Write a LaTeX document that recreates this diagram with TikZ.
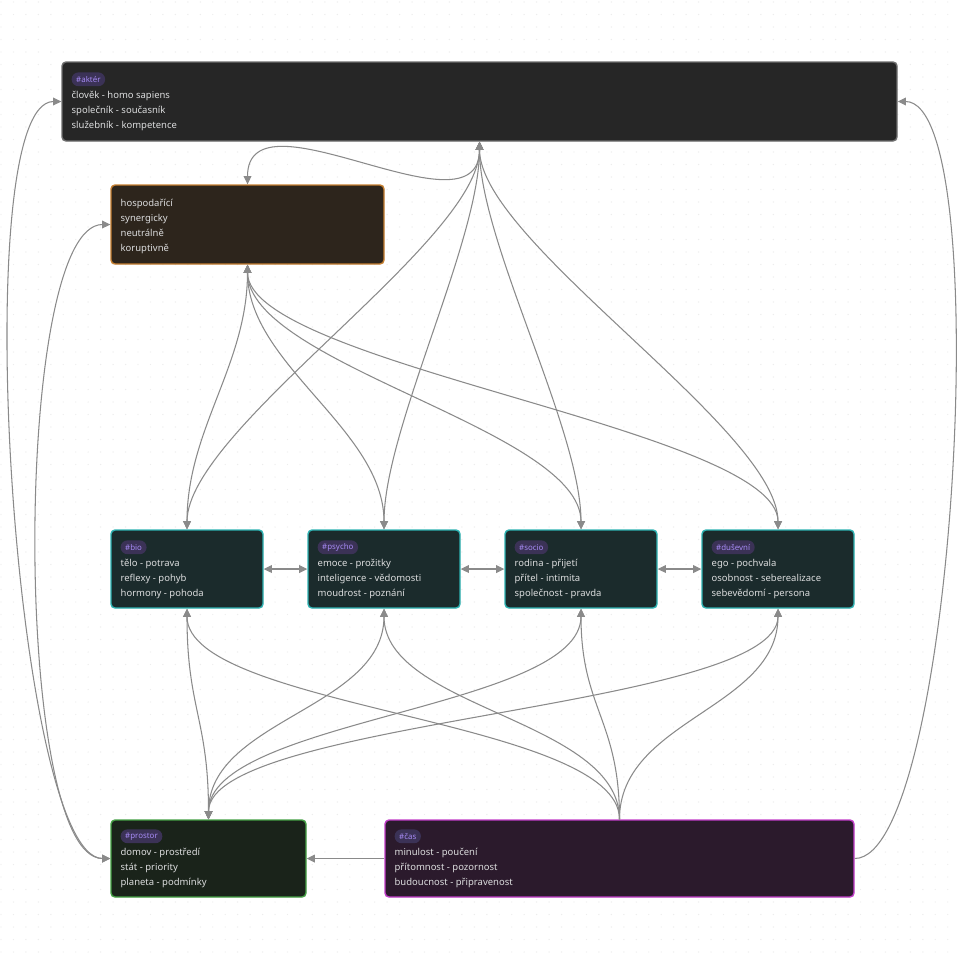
\documentclass[tikz,border=0pt]{standalone}
\usepackage{fontspec}
\setmainfont{Noto Sans}
\usetikzlibrary{arrows.meta,fit}
\definecolor{c_text}{HTML}{DCDDDE}
\definecolor{c_edge}{HTML}{8A8A8A}
\definecolor{c_dots}{HTML}{EDEDED}
\definecolor{c_tag_fill}{HTML}{3B3256}
\definecolor{c_tag_text}{HTML}{A78BF5}
\definecolor{c_akter_fill}{HTML}{262626}
\definecolor{c_akter_line}{HTML}{6E6E6E}
\definecolor{c_hosp_fill}{HTML}{2D251C}
\definecolor{c_hosp_line}{HTML}{C67F30}
\definecolor{c_slozka_fill}{HTML}{1B2B2C}
\definecolor{c_slozka_line}{HTML}{2DB3B3}
\definecolor{c_prostor_fill}{HTML}{1A231A}
\definecolor{c_prostor_line}{HTML}{45A045}
\definecolor{c_cas_fill}{HTML}{2B1A2C}
\definecolor{c_cas_line}{HTML}{C23DC9}
\tikzstyle{box_base} = [rectangle, rounded corners=2.3pt, line width=0.8pt, inner sep=0pt]
\tikzstyle{box_akter} = [box_base, draw=c_akter_line, fill=c_akter_fill]
\tikzstyle{box_hosp} = [box_base, draw=c_hosp_line, fill=c_hosp_fill]
\tikzstyle{box_slozka} = [box_base, draw=c_slozka_line, fill=c_slozka_fill]
\tikzstyle{box_prostor} = [box_base, draw=c_prostor_line, fill=c_prostor_fill]
\tikzstyle{box_cas} = [box_base, draw=c_cas_line, fill=c_cas_fill]
\tikzstyle{tag_pill} = [anchor=west, fill=c_tag_fill, text=c_tag_text, rounded corners=3.9pt, inner xsep=2.6pt, inner ysep=0pt, minimum height=7.9pt, font=\fontsize{4.5}{5}\selectfont]
\tikzstyle{text_lines} = [anchor=base west, text=c_text, align=left, inner sep=0pt, font=\fontsize{5.4}{8.5}\selectfont]
\tikzstyle{edge_normal} = [c_edge, line width=0.6pt, >={Triangle[length=4.6pt,width=4.4pt]}]

\begin{document}
\begin{tikzpicture}[x=0.02cm, y=-0.02cm]
			\useasboundingbox[fill=white] (0,0) rectangle (960,960);
			% faint canvas dots
			\foreach \gy in {2,14.5,...,958}
				\draw[c_dots, line width=0.8pt, line cap=round, dash pattern=on 0pt off 7.09pt] (1,\gy) -- (960,\gy);

			\node (AKT) [box_akter, fit={(62,62) (897,141)}] {};
			\node (HOS) [box_hosp, fit={(111,185) (384,264)}] {};
			\node (BIO) [box_slozka, fit={(111,530) (263,608)}] {};
			\node (PSY) [box_slozka, fit={(308,530) (460,608)}] {};
			\node (SOC) [box_slozka, fit={(505,530) (657,608)}] {};
			\node (DUS) [box_slozka, fit={(702,530) (854,608)}] {};
			\node (PRO) [box_prostor, fit={(111,820) (306,897)}] {};
			\node (CAS) [box_cas, fit={(385,820) (854,897)}] {};

			% base of a text block is its last line
			\node (AKTtag) at ([shift={(10,18)}]AKT.north west) [tag_pill] {\#aktér};
			\node (AKTtxt) at ([shift={(10,67)}]AKT.north west) [text_lines] {člověk - homo sapiens\\společník - současník\\služebník - kompetence};
			\node (HOStxt) at ([shift={(10,67)}]HOS.north west) [text_lines] {hospodařící\\synergicky\\neutrálně\\koruptivně};
			\node (BIOtag) at ([shift={(10,18)}]BIO.north west) [tag_pill] {\#bio};
			\node (BIOtxt) at ([shift={(10,67)}]BIO.north west) [text_lines] {tělo - potrava\\reflexy - pohyb\\hormony - pohoda};
			\node (PSYtag) at ([shift={(10,18)}]PSY.north west) [tag_pill] {\#psycho};
			\node (PSYtxt) at ([shift={(10,67)}]PSY.north west) [text_lines] {emoce - prožitky\\inteligence - vědomosti\\moudrost - poznání};
			\node (SOCtag) at ([shift={(10,18)}]SOC.north west) [tag_pill] {\#socio};
			\node (SOCtxt) at ([shift={(10,67)}]SOC.north west) [text_lines] {rodina - přijetí\\přítel - intimita\\společnost - pravda};
			\node (DUStag) at ([shift={(10,18)}]DUS.north west) [tag_pill] {\#duševní};
			\node (DUStxt) at ([shift={(10,67)}]DUS.north west) [text_lines] {ego - pochvala\\osobnost - seberealizace\\sebevědomí - persona};
			\node (PROtag) at ([shift={(10,17)}]PRO.north west) [tag_pill] {\#prostor};
			\node (PROtxt) at ([shift={(10,66)}]PRO.north west) [text_lines] {domov - prostředí\\stát - priority\\planeta - podmínky};
			\node (CAStag) at ([shift={(10,17)}]CAS.north west) [tag_pill] {\#čas};
			\node (CAStxt) at ([shift={(10,66)}]CAS.north west) [text_lines] {minulost - poučení\\přítomnost - pozornost\\budoucnost - připravenost};

			% from the actor
			\draw[edge_normal, <->] (AKT.south) .. controls +(0,100) and +(0,-100) .. (HOS.north);
			\draw[edge_normal, <->] (AKT.south) .. controls +(0,100) and +(0,-100) .. (BIO.north);
			\draw[edge_normal, <->] (AKT.south) .. controls +(0,100) and +(0,-100) .. (PSY.north);
			\draw[edge_normal, <->] (AKT.south) .. controls +(0,100) and +(0,-100) .. (SOC.north);
			\draw[edge_normal, <->] (AKT.south) .. controls +(0,100) and +(0,-100) .. (DUS.north);
			% from hospodarici
			\draw[edge_normal, <->] (HOS.south) .. controls +(0,100) and +(0,-100) .. (BIO.north);
			\draw[edge_normal, <->] (HOS.south) .. controls +(0,100) and +(0,-100) .. (PSY.north);
			\draw[edge_normal, <->] (HOS.south) .. controls +(0,100) and +(0,-100) .. (SOC.north);
			\draw[edge_normal, <->] (HOS.south) .. controls +(0,100) and +(0,-100) .. (DUS.north);
			% the row
			\draw[edge_normal, <->] (BIO.east) -- (PSY.west);
			\draw[edge_normal, <->] (PSY.east) -- (SOC.west);
			\draw[edge_normal, <->] (SOC.east) -- (DUS.west);
			% from prostor
			\draw[edge_normal, <->] (PRO.north) .. controls +(0,-100) and +(0,100) .. (BIO.south);
			\draw[edge_normal, <->] (PRO.north) .. controls +(0,-100) and +(0,100) .. (PSY.south);
			\draw[edge_normal, <->] (PRO.north) .. controls +(0,-100) and +(0,100) .. (SOC.south);
			\draw[edge_normal, <->] (PRO.north) .. controls +(0,-100) and +(0,100) .. (DUS.south);
			% from cas
			\draw[edge_normal, ->] (CAS.north) .. controls +(0,-100) and +(0,100) .. (BIO.south);
			\draw[edge_normal, ->] (CAS.north) .. controls +(0,-100) and +(0,100) .. (PSY.south);
			\draw[edge_normal, ->] (CAS.north) .. controls +(0,-100) and +(0,100) .. (SOC.south);
			\draw[edge_normal, ->] (CAS.north) .. controls +(0,-100) and +(0,100) .. (DUS.south);
			\draw[edge_normal, ->] (CAS.west) -- (PRO.east);
			\draw[edge_normal, ->] (CAS.east) .. controls +(100,0) and +(100,0) .. (AKT.east);
			% round the left side
			\draw[edge_normal, <->] (PRO.west) .. controls +(-96,0) and +(-96,0) .. (AKT.west);
			\draw[edge_normal, <->] (PRO.west) .. controls +(-98,0) and +(-98,0) .. (HOS.west);
		\end{tikzpicture}
\end{document}
